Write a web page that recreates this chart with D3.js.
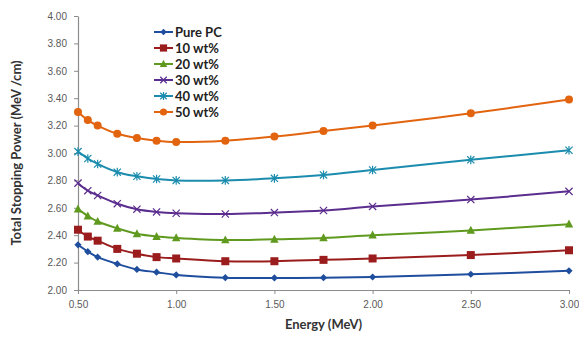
<!DOCTYPE html>
<html>
<head>
	<meta charset="UTF-8">
	<script src="https://d3js.org/d3.v7.min.js"></script>
	<title>Total Stopping Power</title>
	<style>
		body { margin: 0; background: #fff; }
		svg { display: block; font-family: Lato, "Open Sans", sans-serif; }
	</style>
</head>
<body>
	<svg></svg>
	<script type="text/javascript">
		const width = 579;
		const height = 338;
		const margin = ({top: 16, right: 10, bottom: 48, left: 78});
		const plotRight = 569;

		const energy = [0.5, 0.55, 0.6, 0.7, 0.8, 0.9, 1.0, 1.25, 1.5, 1.75, 2.0, 2.5, 3.0];
		const seriesNames = ["Pure PC", "10 wt%", "20 wt%", "30 wt%", "40 wt%", "50 wt%"];
		const purePC = [2.33, 2.28, 2.24, 2.19, 2.15, 2.13, 2.11, 2.09, 2.088, 2.09, 2.095, 2.115, 2.14];
		const wt10 = [2.44, 2.39, 2.36, 2.30, 2.265, 2.24, 2.23, 2.21, 2.21, 2.22, 2.23, 2.255, 2.29];
		const wt20 = [2.59, 2.54, 2.50, 2.45, 2.41, 2.39, 2.38, 2.365, 2.37, 2.38, 2.40, 2.435, 2.48];
		const wt30 = [2.78, 2.725, 2.69, 2.63, 2.59, 2.57, 2.56, 2.555, 2.565, 2.58, 2.61, 2.66, 2.72];
		const wt40 = [3.01, 2.96, 2.92, 2.86, 2.83, 2.81, 2.80, 2.80, 2.815, 2.84, 2.876, 2.95, 3.02];
		const wt50 = [3.30, 3.24, 3.20, 3.14, 3.11, 3.09, 3.08, 3.09, 3.12, 3.16, 3.20, 3.29, 3.39];
		const xTicks = [0.5, 1.0, 1.5, 2.0, 2.5, 3.0];
		const yTicks = [2.0, 2.2, 2.4, 2.6, 2.8, 3.0, 3.2, 3.4, 3.6, 3.8, 4.0];

		const colors = ["#1f4e9e", "#9b1c1c", "#5f9a1f", "#5b2d8e", "#1b8cad", "#e2640f"];
		const markers = ["diamond", "square", "triangle", "x", "star", "circle"];
		const values = [purePC, wt10, wt20, wt30, wt40, wt50];

		const series = seriesNames.map((name, i) => ({
			name: name,
			color: colors[i],
			marker: markers[i],
			points: energy.map((e, j) => ({x: e, y: values[i][j]}))
		}));

		const x = d3.scaleLinear()
			.domain([0.5, 3.0])
			.range([margin.left, plotRight]);

		const y = d3.scaleLinear()
			.domain([2.0, 4.0])
			.range([height - margin.bottom, margin.top]);

		const svg = d3.select("svg")
			.attr("width", width)
			.attr("height", height)
			.attr("viewBox", [0, 0, width, height]);

		// axes
		svg.append("g")
			.attr("transform", `translate(0,${height - margin.bottom})`)
			.call(d3.axisBottom(x).tickValues(xTicks).tickFormat(d3.format(".2f")).tickSize(4).tickSizeOuter(0))
			.call(g => g.select(".domain").attr("stroke", "#8c8c8c").attr("stroke-width", 1.2))
			.call(g => g.selectAll(".tick line").attr("stroke", "#8c8c8c"))
			.call(g => g.selectAll(".tick text").attr("fill", "#595959").attr("font-size", 10).attr("dy", "1.1em"));

		svg.append("g")
			.attr("transform", `translate(${margin.left},0)`)
			.call(d3.axisLeft(y).tickValues(yTicks).tickFormat(d3.format(".2f")).tickSize(4).tickSizeOuter(0))
			.call(g => g.select(".domain").attr("stroke", "#8c8c8c").attr("stroke-width", 1.2))
			.call(g => g.selectAll(".tick line").attr("stroke", "#8c8c8c"))
			.call(g => g.selectAll(".tick text").attr("fill", "#595959").attr("font-size", 10).attr("dx", "-0.4em"));

		// axis titles
		svg.append("text")
			.attr("x", (margin.left + plotRight) / 2)
			.attr("y", 329)
			.attr("text-anchor", "middle")
			.attr("font-size", 13)
			.attr("font-weight", "bold")
			.attr("fill", "#333")
			.text("Energy (MeV)");

		svg.append("text")
			.attr("transform", `translate(21,${(margin.top + height - margin.bottom) / 2}) rotate(-90)`)
			.attr("text-anchor", "middle")
			.attr("font-size", 13)
			.attr("font-weight", "bold")
			.attr("fill", "#333")
			.text("Total Stopping Power (MeV /cm)");

		const line = d3.line()
			.x(d => x(d.x))
			.y(d => y(d.y))
			.curve(d3.curveCatmullRom.alpha(0.5));

		function drawMarker(g, type, color, size) {
			const s = size;
			if (type === "diamond") {
				g.append("path").attr("d", `M0,${-s}L${s},0L0,${s}L${-s},0Z`).attr("fill", color);
			} else if (type === "square") {
				g.append("rect").attr("x", -s).attr("y", -s).attr("width", 2 * s).attr("height", 2 * s).attr("fill", color);
			} else if (type === "triangle") {
				g.append("path").attr("d", `M0,${-s * 1.1}L${s},${s * 0.8}L${-s},${s * 0.8}Z`).attr("fill", color);
			} else if (type === "x") {
				g.append("path").attr("d", `M${-s},${-s}L${s},${s}M${-s},${s}L${s},${-s}`).attr("stroke", color).attr("stroke-width", 1.2).attr("fill", "none");
			} else if (type === "star") {
				g.append("path").attr("d", `M${-s},${-s}L${s},${s}M${-s},${s}L${s},${-s}M0,${-s * 1.2}L0,${s * 1.2}`).attr("stroke", color).attr("stroke-width", 1.2).attr("fill", "none");
			} else {
				g.append("circle").attr("r", s).attr("fill", color);
			}
		}

		const markerSize = {diamond: 3.6, square: 4, triangle: 4.2, x: 3.6, star: 3.6, circle: 4};

		series.forEach(s => {
			svg.append("path")
				.datum(s.points)
				.attr("fill", "none")
				.attr("stroke", s.color)
				.attr("stroke-width", 2)
				.attr("d", line);

			svg.append("g")
				.selectAll("g")
				.data(s.points)
				.join("g")
				.attr("transform", d => `translate(${x(d.x)},${y(d.y)})`)
				.each(function() { drawMarker(d3.select(this), s.marker, s.color, markerSize[s.marker]); });
		});

		// legend
		const legend = svg.append("g")
			.attr("transform", "translate(154,32)");

		const row = legend.selectAll("g")
			.data(series)
			.join("g")
			.attr("transform", (d, i) => `translate(0,${i * 16})`);

		row.append("line")
			.attr("x1", 0)
			.attr("x2", 19)
			.attr("stroke", d => d.color)
			.attr("stroke-width", 2);

		row.append("g")
			.attr("transform", "translate(9.5,0)")
			.each(function(d) { drawMarker(d3.select(this), d.marker, d.color, markerSize[d.marker] * 0.9); });

		row.append("text")
			.attr("x", 21)
			.attr("dy", "0.35em")
			.attr("font-size", 13)
			.attr("font-weight", "bold")
			.attr("fill", "#222")
			.text(d => d.name);
	</script>
</body>
</html>
